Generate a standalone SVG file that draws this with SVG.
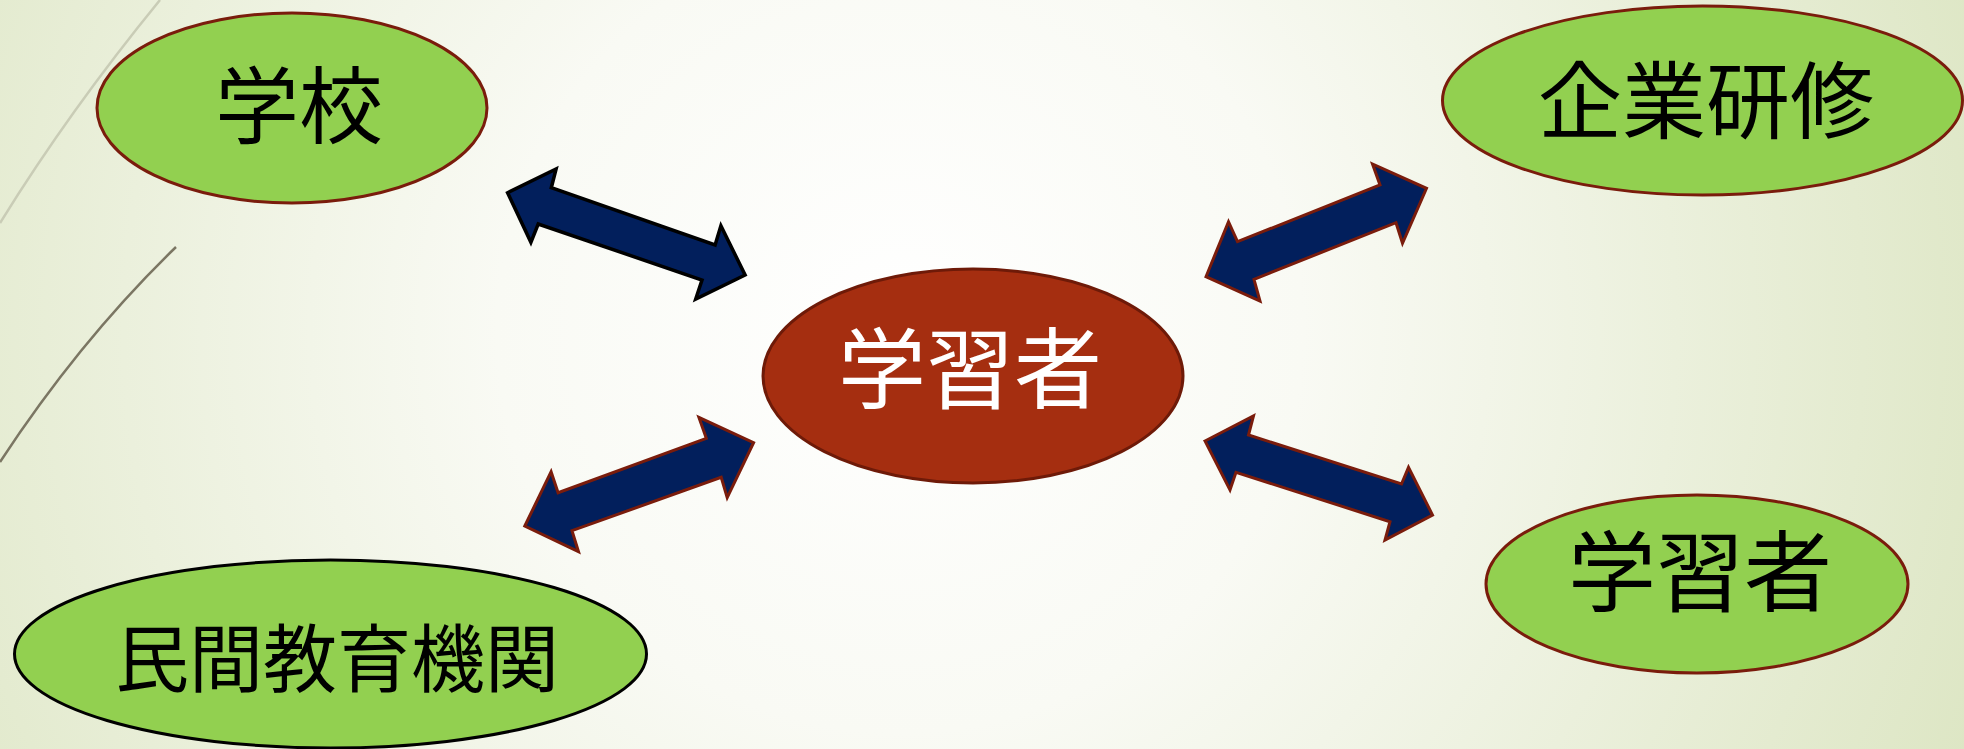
<svg xmlns="http://www.w3.org/2000/svg" width="1964" height="749" viewBox="0 0 1964 749">
<defs>
<radialGradient id="bg" cx="900" cy="330" r="1150" gradientUnits="userSpaceOnUse">
<stop offset="0" stop-color="#ffffff"/>
<stop offset="0.35" stop-color="#f9faf4"/>
<stop offset="1" stop-color="#dde6c4"/>
</radialGradient>
<style>
.leaf{fill:#92D050;stroke:#7a1c0c;stroke-width:3}
.leafk{fill:#92D050;stroke:#000000;stroke-width:3}
.hub{fill:#A52E10;stroke:#6e1a08;stroke-width:3}
.lbl{font-family:"Noto Sans CJK JP","Noto Sans CJK SC",sans-serif;font-size:84px;fill:#000000;text-anchor:middle;dominant-baseline:central}
.arr{fill:#021F5C;stroke:#7a1c0c;stroke-width:3;stroke-linejoin:miter}
.arrk{fill:#021F5C;stroke:#000000;stroke-width:3.5;stroke-linejoin:miter}
</style>
</defs>
<rect width="1964" height="749" fill="url(#bg)"/>
<g id="decor" fill="none">
<path d="M160,0 Q70,110 0,223" stroke="#c9ccb6" stroke-width="2.5"/>
<path d="M176,247 Q80,340 0,462" stroke="#7b7663" stroke-width="2.5"/>
</g>
<g id="connectors">
<polygon class="arrk" points="507.6,192.7 556.1,169 551.3,187.7 715.1,245 720.9,225.7 745.1,275 695.7,299 702,280 538.2,224 530.9,242.3"/>
<polygon class="arr" points="524.8,526 551.1,471.7 558.1,492.7 706.3,438.3 698.9,417.3 753.6,442.7 727.2,497.7 721.2,477.3 572,530.7 578.5,551.7"/>
<polygon class="arr" points="1206,276.7 1228.5,221.7 1237.5,241.7 1380,185 1372.5,164 1426.5,188.3 1402.5,243.3 1396,222.7 1254,279.3 1260,301"/>
<polygon class="arr" points="1205,441 1253.5,416 1248.5,435 1401.5,484 1408.5,467.3 1432.5,515 1385,540 1390,521.7 1236,472.3 1230,490"/>
</g>
<g id="node-school">
<ellipse class="leaf" cx="292" cy="108" rx="195" ry="95"/>
<text class="lbl" x="299" y="100">学校</text>
</g>
<g id="node-learner-center">
<ellipse class="hub" cx="973" cy="376" rx="210" ry="107"/>
<text class="lbl" x="970" y="362" style="fill:#ffffff;font-size:88px">学習者</text>
</g>
<g id="node-corporate">
<ellipse class="leaf" cx="1702.5" cy="100.5" rx="260" ry="94.5"/>
<text class="lbl" x="1706" y="95">企業研修</text>
</g>
<g id="node-learner">
<ellipse class="leaf" cx="1697" cy="584" rx="211" ry="89"/>
<text class="lbl" x="1700" y="565" style="font-size:88px">学習者</text>
</g>
<g id="node-private">
<ellipse class="leafk" cx="330.5" cy="654" rx="316" ry="94"/>
<text class="lbl" x="337" y="653" style="font-size:74px">民間教育機関</text>
</g>
</svg>
